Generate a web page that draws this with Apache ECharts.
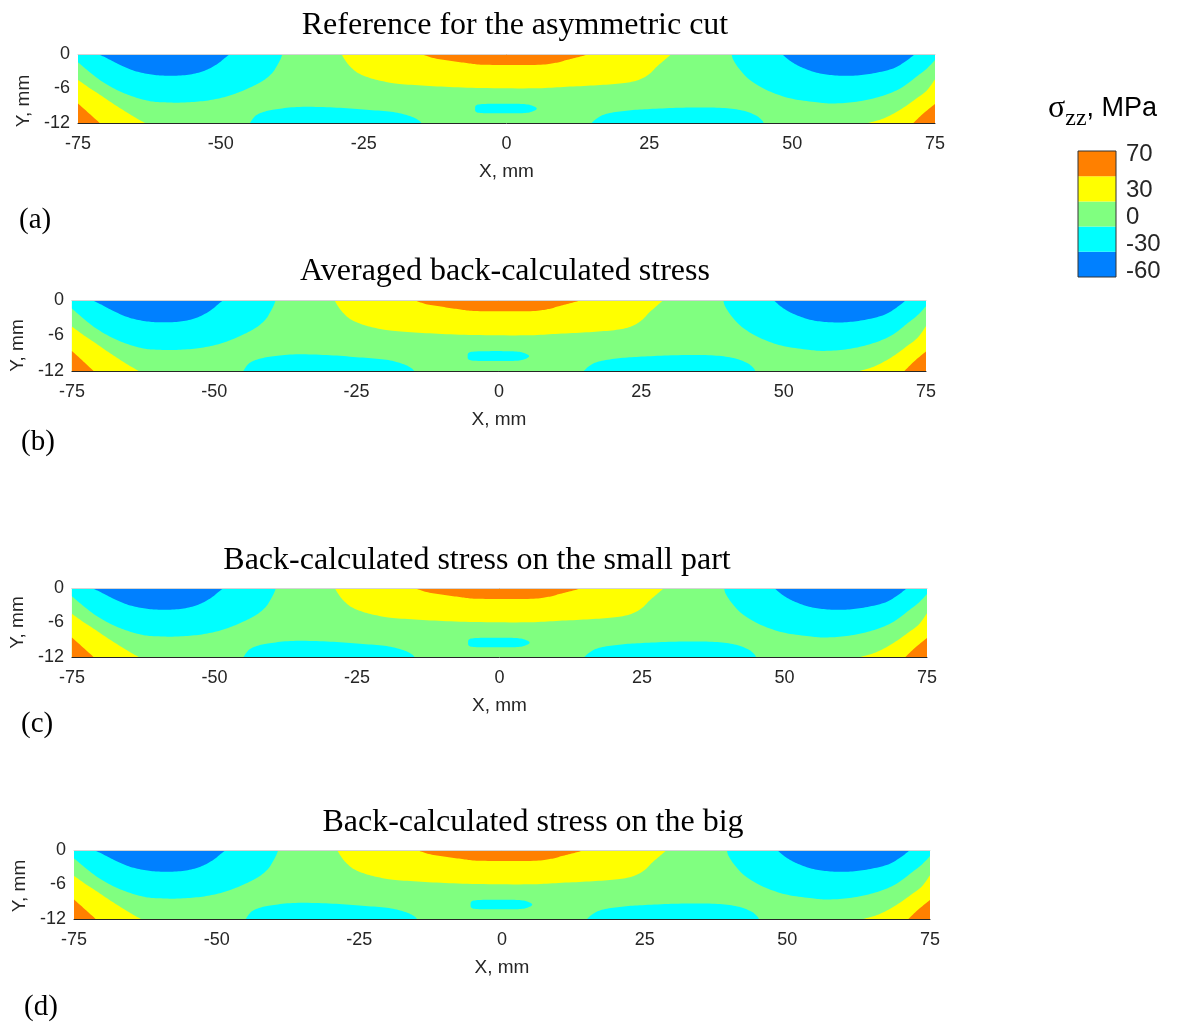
<!DOCTYPE html>
<html><head><meta charset="utf-8">
<script src="https://cdn.jsdelivr.net/npm/echarts@6/dist/echarts.min.js"></script>
<style>html,body{margin:0;padding:0;background:#fff}#c{width:1179px;height:1023px}</style>
</head><body><div id="c"></div>
<script>
// ---------- data ----------
const X_TICKS = [-75, -50, -25, 0, 25, 50, 75];
const Y_TICKS = [0, -6, -12];
const PANEL_TITLES = ['Reference for the asymmetric cut', 'Averaged back-calculated stress',
  'Back-calculated stress on the small part', 'Back-calculated stress on the big'];
const PANEL_TAGS = ['(a)', '(b)', '(c)', '(d)'];
const LEVEL_LABELS = [70, 30, 0, -30, -60];
const BAND_EDGES = [-66, -38, -10, 18, 46, 74];

// contour boundaries (X mm, Y mm)
const CYAN_TOP_LEFT = [[-39.2,0],[-39.6,-1.0],[-40.2,-2.1],[-41.0,-3.3],[-42.4,-4.5],[-44.4,-5.6],[-47.2,-6.8],[-50,-7.65],[-53.2,-8.2],[-57,-8.45],[-60,-8.4],[-62.4,-8.2],[-65.4,-7.4],[-68.3,-6.2],[-71.2,-4.5],[-73.5,-2.7],[-75,-1.45]];
const BLUE_TOP_LEFT = [[-71.5,0],[-70,-0.7],[-68.3,-1.57],[-65.4,-2.84],[-62.4,-3.54],[-59.5,-3.77],[-56,-3.65],[-53.1,-3.0],[-50.8,-1.86],[-49.3,-0.7],[-48.4,0]];
const CYAN_TOP_RIGHT = [[39.4,0],[39.7,-1.04],[40.9,-2.8],[42.6,-4.5],[45.5,-6.26],[49.6,-7.7],[54.3,-8.4],[57.2,-8.6],[61.3,-8.3],[65.4,-7.4],[68.9,-6.0],[71.8,-3.9],[73.6,-2.5],[75,-1.04]];
const BLUE_TOP_RIGHT = [[48.2,0],[49.6,-1.16],[51.4,-2.2],[54.3,-3.25],[57.2,-3.7],[60.7,-3.77],[64.2,-3.36],[67.7,-2.5],[70.0,-1.16],[71.5,0]];
const CYAN_BOTTOM_LEFT = [[-44.9,-12],[-44.0,-10.8],[-42.6,-10.1],[-40.3,-9.6],[-36.2,-9.2],[-30.3,-9.3],[-24.5,-9.7],[-19.8,-10.1],[-16.9,-10.8],[-15.4,-11.5],[-14.9,-12]];
const CYAN_BOTTOM_RIGHT = [[14.9,-12],[15.8,-11.2],[17.5,-10.4],[21.0,-9.85],[25.1,-9.57],[30.9,-9.33],[36.8,-9.33],[40.9,-9.74],[43.5,-10.6],[44.7,-11.5],[45.0,-12]];
const CYAN_CENTER = [[-5.5,-9.5],[-5.0,-8.8],[-2,-8.65],[1,-8.65],[3.8,-8.8],[5.3,-9.5],[3.8,-10.2],[1,-10.3],[-2,-10.3],[-5.0,-10.2]];
const YELLOW_CENTER = [[-28.9,0],[-28.3,-1.0],[-27.4,-2.14],[-26.0,-3.3],[-23.9,-4.17],[-21.6,-4.75],[-18.7,-5.2],[-12.8,-5.6],[-5.2,-5.9],[4.7,-5.97],[10.5,-5.7],[16.4,-5.4],[21,-5.0],[23.4,-4.4],[25.1,-3.4],[26.3,-2.2],[27.7,-1.0],[28.9,0]];
const ORANGE_CENTER = [[-14.9,0],[-12.8,-0.7],[-9.9,-1.16],[-7.0,-1.57],[-4.5,-1.85],[0,-1.9],[6,-1.87],[8.8,-1.5],[10.5,-1.05],[12.9,-0.45],[14.6,0]];
const YELLOW_BOTTOM_LEFT = [[-75,-4.5],[-73.0,-5.9],[-71.2,-7.07],[-68.3,-9.0],[-65.4,-10.8],[-63.3,-12]];
const ORANGE_BOTTOM_LEFT = [[-75,-8.6],[-73.2,-10.2],[-71.2,-12]];
const YELLOW_BOTTOM_RIGHT = [[63.3,-12],[66.0,-11.2],[68.9,-9.7],[71.8,-7.7],[73.6,-6.3],[75,-4.4]];
const ORANGE_BOTTOM_RIGHT = [[71.2,-12],[73.0,-10.3],[75,-8.7]];

// ---------- styling ----------
const C_ORANGE = '#FF8000', C_YELLOW = '#FFFF00', C_GREEN = '#80FF80', C_CYAN = '#00FFFF', C_BLUE = '#0080FF';
const BAND_COLORS = [C_BLUE, C_CYAN, C_GREEN, C_YELLOW, C_ORANGE];

const REGIONS = [
  {curve: CYAN_TOP_LEFT, corners: [[-75, 0]], color: C_CYAN},
  {curve: CYAN_TOP_RIGHT, corners: [[75, 0]], color: C_CYAN},
  {curve: BLUE_TOP_LEFT, corners: [], color: C_BLUE},
  {curve: BLUE_TOP_RIGHT, corners: [], color: C_BLUE},
  {curve: CYAN_BOTTOM_LEFT, corners: [], color: C_CYAN},
  {curve: CYAN_BOTTOM_RIGHT, corners: [], color: C_CYAN},
  {curve: CYAN_CENTER, corners: [], color: C_CYAN, closed: true},
  {curve: YELLOW_CENTER, corners: [], color: C_YELLOW},
  {curve: ORANGE_CENTER, corners: [], color: C_ORANGE},
  {curve: YELLOW_BOTTOM_LEFT, corners: [[-75, -12]], color: C_YELLOW},
  {curve: ORANGE_BOTTOM_LEFT, corners: [[-75, -12]], color: C_ORANGE},
  {curve: YELLOW_BOTTOM_RIGHT, corners: [[75, -12]], color: C_YELLOW},
  {curve: ORANGE_BOTTOM_RIGHT, corners: [[75, -12]], color: C_ORANGE}
];

const GRIDS = [
  {left: 78, top: 54, width: 857, height: 69},
  {left: 70, top: 300, width: 856, height: 71},
  {left: 70, top: 588, width: 857, height: 69},
  {left: 74, top: 850, width: 856, height: 69}
];
const TITLE_POS = [[510, 5], [500, 251], [472, 540], [528, 802]];
const TAG_POS = [[14, 201], [16, 423], [16, 705], [19, 988]];
const YNAME_SHIFT = [25, 20, 0, 3];

const SANS = 'Liberation Sans, Arial, sans-serif';
const SERIF = 'Liberation Serif, Times New Roman, serif';
const AX = '#262626';

function catmull(pts, closed, steps) {
  const n = pts.length;
  if (n < 3) return pts.slice();
  const get = i => closed ? pts[(i + n) % n] : pts[Math.max(0, Math.min(n - 1, i))];
  const out = [];
  const segs = closed ? n : n - 1;
  for (let i = 0; i < segs; i++) {
    const p0 = get(i - 1), p1 = get(i), p2 = get(i + 1), p3 = get(i + 2);
    for (let s = 0; s < steps; s++) {
      const t = s / steps, t2 = t * t, t3 = t2 * t;
      const f = k => 0.5 * (2 * p1[k] + (-p0[k] + p2[k]) * t + (2 * p0[k] - 5 * p1[k] + 4 * p2[k] - p3[k]) * t2 + (-p0[k] + 3 * p1[k] - 3 * p2[k] + p3[k]) * t3);
      out.push([f(0), f(1)]);
    }
  }
  if (!closed) out.push(pts[n - 1]);
  return out;
}

function renderRegion(params, api) {
  const r = REGIONS[params.dataIndex];
  const px = r.curve.map(p => api.coord(p));
  let pts = catmull(px, !!r.closed, 10);
  pts = pts.concat(r.corners.map(p => api.coord(p)));
  return {type: 'polygon', shape: {points: pts}, style: {fill: r.color, stroke: null}};
}

const grid = [], xAxis = [], yAxis = [], series = [], title = [];
GRIDS.forEach((g, i) => {
  grid.push(Object.assign({show: true, backgroundColor: C_GREEN, borderWidth: 0}, g));
  xAxis.push({
    gridIndex: i, type: 'value', min: X_TICKS[0], max: X_TICKS[X_TICKS.length - 1], interval: 25,
    position: 'bottom', z: 10,
    axisLine: {show: true, onZero: false, lineStyle: {color: AX, width: 1}},
    axisTick: {show: false}, splitLine: {show: false},
    axisLabel: {color: AX, fontSize: 18, fontFamily: SANS, margin: 12},
    name: 'X, mm', nameLocation: 'middle', nameGap: 39,
    nameTextStyle: {color: AX, fontSize: 19, fontFamily: SANS}
  });
  xAxis.push({
    gridIndex: i, type: 'value', min: -75, max: 75, position: 'top', z: 10,
    axisLine: {show: true, onZero: false, lineStyle: {color: '#d4d4d4', width: 1}},
    axisTick: {show: false}, splitLine: {show: false}, axisLabel: {show: false}
  });
  yAxis.push({
    gridIndex: i, type: 'value', min: Y_TICKS[2], max: Y_TICKS[0], interval: 6,
    axisLine: {show: false}, axisTick: {show: false}, splitLine: {show: false},
    axisLabel: {color: AX, fontSize: 18, fontFamily: SANS, margin: 8},
    name: 'Y, mm', nameLocation: 'middle', nameGap: 42,
    nameTextStyle: {color: AX, fontSize: 19, fontFamily: SANS, padding: [0, YNAME_SHIFT[i], 0, 0]}
  });
  series.push({
    type: 'custom', xAxisIndex: 2 * i, yAxisIndex: i, clip: true, silent: true,
    renderItem: renderRegion,
    data: REGIONS.map(r => r.curve[0])
  });
  title.push({
    text: PANEL_TITLES[i], left: TITLE_POS[i][0], top: TITLE_POS[i][1], textAlign: 'center',
    textStyle: {fontFamily: SERIF, fontSize: 32, fontWeight: 'normal', color: '#000'}
  });
  title.push({
    text: PANEL_TAGS[i], left: TAG_POS[i][0], top: TAG_POS[i][1],
    textStyle: {fontFamily: SERIF, fontSize: 29, fontWeight: 'normal', color: '#000'}
  });
});

// colorbar
grid.push({left: 1078, top: 151, width: 38, height: 126, show: false});
xAxis.push({gridIndex: 4, type: 'value', min: 0, max: 1, show: false});
yAxis.push({
  gridIndex: 4, type: 'value', min: BAND_EDGES[0], max: BAND_EDGES[BAND_EDGES.length - 1], position: 'right',
  axisLine: {show: false}, axisTick: {show: false}, splitLine: {show: false},
  axisLabel: {customValues: LEVEL_LABELS, color: AX, fontSize: 24, fontFamily: SANS, margin: 10}
});
series.push({
  type: 'custom', xAxisIndex: 8, yAxisIndex: 4, silent: true,
  data: BAND_COLORS.map((c, i) => [BAND_EDGES[i], BAND_EDGES[i + 1]]),
  renderItem: (params, api) => {
    const lo = api.value(0), hi = api.value(1);
    const a = api.coord([0, hi]), b = api.coord([1, lo]);
    return {type: 'rect', shape: {x: a[0], y: a[1], width: b[0] - a[0], height: b[1] - a[1]},
      style: {fill: BAND_COLORS[params.dataIndex]}};
  },
  encode: {x: -1, y: [0, 1]}
});
series.push({
  type: 'custom', xAxisIndex: 8, yAxisIndex: 4, silent: true, z: 5,
  data: [[BAND_EDGES[0], BAND_EDGES[BAND_EDGES.length - 1]]],
  renderItem: (params, api) => {
    const a = api.coord([0, api.value(1)]), b = api.coord([1, api.value(0)]);
    return {type: 'rect', shape: {x: a[0], y: a[1], width: b[0] - a[0], height: b[1] - a[1]},
      style: {fill: null, stroke: '#333', lineWidth: 1}};
  },
  encode: {x: -1, y: [0, 1]}
});
title.push({
  text: '{s|σ}{z|zz}{m|, MPa}', left: 1043, top: 82,
  textStyle: {
    fontWeight: 'normal',
    rich: {
      s: {fontFamily: SERIF, fontSize: 32, fontWeight: 'normal', color: '#000', lineHeight: 36},
      z: {fontFamily: SERIF, fontSize: 24, fontWeight: 'normal', color: '#000', padding: [20, 0, 0, 0]},
      m: {fontFamily: SANS, fontSize: 27, fontWeight: 'normal', color: '#000', lineHeight: 36}
    }
  }
});

const chart = echarts.init(document.getElementById('c'), null, {renderer: 'canvas'});
chart.setOption({animation: false, backgroundColor: '#fff', title, grid, xAxis, yAxis, series});
</script>
</body></html>
